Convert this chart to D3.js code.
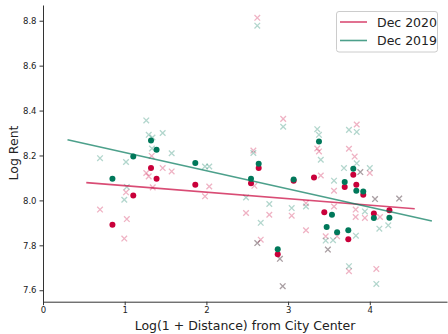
<!DOCTYPE html>
<html>
<head>
<meta charset="utf-8">
<script src="https://cdn.jsdelivr.net/npm/d3@7"></script>
<style>
  body { margin: 0; background: #fff; }
  svg { display: block; font-family: "DejaVu Sans", sans-serif; }
</style>
</head>
<body>
<div id="chart"></div>
<script>
// Series data: [log(1+distance), log rent]
var dots2020 = [[0.85,7.892],[1.105,8.022],[1.322,8.144],[1.39,8.096],[1.864,8.070],[2.546,8.076],
    [2.64,8.144],[2.873,7.76],[3.068,8.088],[3.317,8.102],[3.443,7.947],[3.693,8.06],[3.737,7.827],
    [3.798,8.114],[3.835,8.07],[3.92,8.025],[4.05,7.942],[4.24,7.956]];
var dots2019 = [[0.85,8.096],[1.105,8.196],[1.322,8.267],[1.39,8.225],[1.864,8.166],[2.546,8.096],
    [2.64,8.163],[2.873,7.782],[3.068,8.093],[3.378,8.262],[3.472,7.882],[3.537,7.936],[3.60,7.858],
    [3.693,8.082],[3.737,7.867],[3.798,8.141],[3.835,8.043],[3.92,8.04],[4.05,7.922],[4.24,7.923]];
var crosses2020 = [[0.698,7.959],[0.995,7.83],[1.016,8.036],[1.026,7.917],[1.264,8.122],[1.294,8.107],
    [1.33,8.198],[1.343,8.058],[1.465,8.144],[1.575,8.129],[1.983,8.018],[2.035,8.062],[2.485,7.944],
    [2.575,8.222],[2.587,8.065],[2.623,8.813],[2.623,7.81],[2.665,7.825],[2.77,7.936],[2.90,7.74],
    [2.934,7.618],[2.94,8.363],[3.044,7.932],[3.219,7.988],[3.219,7.867],[3.357,8.231],[3.378,8.218],
    [3.40,8.111],[3.46,7.84],[3.487,7.781],[3.562,8.043],[3.562,7.973],[3.60,7.84],[3.745,8.23],
    [3.815,8.195],[3.84,8.338],[3.745,7.685],[3.827,7.959],[3.827,7.926],[3.884,8.126],[3.94,7.922],
    [4.0,8.122],[4.064,8.006],[4.125,7.926],[4.08,7.695],[4.36,8.008]];
var crosses2019 = [[0.698,8.188],[0.995,8.003],[1.016,8.171],[1.026,8.06],[1.264,8.356],[1.294,8.292],
    [1.34,8.28],[1.334,8.231],[1.465,8.30],[1.575,8.21],[1.983,8.151],[2.035,8.151],[2.485,8.013],
    [2.575,8.211],[2.623,8.778],[2.623,7.81],[2.665,7.90],[2.77,7.984],[2.90,7.74],[2.934,7.618],
    [2.94,8.328],[3.044,7.966],[3.219,7.973],[3.357,8.317],[3.378,8.292],[3.40,8.181],[3.46,7.821],
    [3.487,7.781],[3.562,8.088],[3.55,7.823],[3.684,8.144],[3.745,8.314],[3.745,7.707],[3.84,8.305],
    [3.84,8.165],[3.884,8.126],[3.83,7.843],[3.94,7.951],[4.0,8.144],[4.064,8.006],[4.117,7.874],
    [4.226,7.889],[4.08,7.628],[4.36,8.008]];
// fitted lines, end points
var fit2020 = [[0.53,8.079],[4.55,7.963]];
var fit2019 = [[0.30,8.27],[4.76,7.908]];

var xTicks = [0, 1, 2, 3, 4];
var yTicks = [7.6, 7.8, 8.0, 8.2, 8.4, 8.6, 8.8];
var seriesNames = ["Dec 2020", "Dec 2019"];
var red = "#c9003a", green = "#00785a";

var W = 448, H = 334;
var svg = d3.select("#chart").append("svg").attr("width", W).attr("height", H);

var x = d3.scaleLinear().domain([0, 4.945]).range([43, 447]);
var y = d3.scaleLinear().domain([7.549, 8.87]).range([301.7, 5]);

// crosses
function drawCrosses(data, color) {
    var s = 2.8;
    svg.append("g").selectAll("path")
        .data(data)
        .enter().append("path")
        .attr("d", d => {
            var cx = x(d[0]), cy = y(d[1]);
            return "M" + (cx - s) + "," + (cy - s) + "L" + (cx + s) + "," + (cy + s) +
                   "M" + (cx - s) + "," + (cy + s) + "L" + (cx + s) + "," + (cy - s);
        })
        .attr("stroke", color)
        .attr("stroke-opacity", 0.3)
        .attr("stroke-width", 1.3)
        .attr("fill", "none");
}
drawCrosses(crosses2020, red);
drawCrosses(crosses2019, green);

function drawDots(data, color) {
    svg.append("g").selectAll("circle")
        .data(data)
        .enter().append("circle")
        .attr("cx", d => x(d[0]))
        .attr("cy", d => y(d[1]))
        .attr("r", 3)
        .attr("fill", color);
}
drawDots(dots2020, red);
drawDots(dots2019, green);

var line = d3.line().x(d => x(d[0])).y(d => y(d[1]));
svg.append("path").datum(fit2020).attr("d", line)
    .attr("stroke", red).attr("stroke-opacity", 0.7).attr("stroke-width", 1.6).attr("fill", "none");
svg.append("path").datum(fit2019).attr("d", line)
    .attr("stroke", green).attr("stroke-opacity", 0.7).attr("stroke-width", 1.6).attr("fill", "none");

// axes
var xAxis = svg.append("g")
    .attr("transform", "translate(0," + 301.7 + ")")
    .call(d3.axisBottom(x).tickValues(xTicks).tickFormat(d3.format("d")).tickSize(3.5).tickPadding(2).tickSizeOuter(0));
var yAxis = svg.append("g")
    .attr("transform", "translate(" + 43 + ",0)")
    .call(d3.axisLeft(y).tickValues(yTicks).tickFormat(d3.format(".1f")).tickSize(3.5).tickPadding(3).tickSizeOuter(0));
[xAxis, yAxis].forEach(a => {
    a.selectAll("path, line").attr("stroke", "#333").attr("stroke-width", 1);
    a.selectAll("text").attr("font-family", "DejaVu Sans").attr("font-size", 8.5).attr("fill", "#222");
});

svg.append("text")
    .attr("x", 245).attr("y", 330)
    .attr("text-anchor", "middle")
    .attr("font-size", 12.5).attr("fill", "#222")
    .text("Log(1 + Distance) from City Center");
svg.append("text")
    .attr("transform", "translate(18,153) rotate(-90)")
    .attr("text-anchor", "middle")
    .attr("font-size", 12.5).attr("fill", "#222")
    .text("Log Rent");

// legend
var legend = svg.append("g");
legend.append("rect")
    .attr("x", 336.5).attr("y", 11.5).attr("width", 101).attr("height", 40.5)
    .attr("rx", 2.5).attr("fill", "#fff").attr("fill-opacity", 0.8)
    .attr("stroke", "#ccc").attr("stroke-width", 1);
[red, green].forEach((c, i) => {
    var ly = 22 + i * 18.5;
    legend.append("line").attr("x1", 340).attr("x2", 367).attr("y1", ly).attr("y2", ly)
        .attr("stroke", c).attr("stroke-opacity", 0.7).attr("stroke-width", 1.6);
    legend.append("text").attr("x", 377).attr("y", ly + 4.5)
        .attr("font-size", 12.5).attr("fill", "#222").text(seriesNames[i]);
});
</script>
</body>
</html>
